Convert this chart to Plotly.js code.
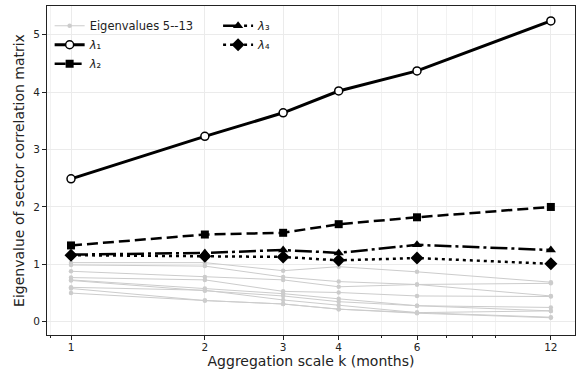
<!DOCTYPE html>
<html>
<head>
<meta charset="utf-8">
<script src="https://cdn.plot.ly/plotly-3.0.1.min.js"></script>
<style>
  html, body { margin: 0; padding: 0; background: #ffffff; }
  #chart { width: 581px; height: 374px; }
</style>
</head>
<body>
<div id="chart"></div>
<script>
// Aggregation scales (months)
const scales = [1, 2, 3, 4, 6, 12];
const tickLabels = ['1', '2', '3', '4', '6', '12'];

// Leading eigenvalues of the sector correlation matrix
const lambda1 = [2.49, 3.23, 3.64, 4.02, 4.37, 5.24];
const lambda2 = [1.33, 1.52, 1.55, 1.70, 1.82, 2.00];
const lambda3 = [1.17, 1.20, 1.25, 1.20, 1.34, 1.25];
const lambda4 = [1.16, 1.14, 1.13, 1.07, 1.11, 1.01];

// Remaining eigenvalues 5..13
const lambda5  = [1.03, 1.03, 0.89, 0.96, 0.87, 0.69];
const lambda6  = [0.99, 0.97, 0.78, 0.70, 0.65, 0.67];
const lambda7  = [0.88, 0.78, 0.73, 0.61, 0.65, 0.45];
const lambda8  = [0.77, 0.73, 0.53, 0.51, 0.45, 0.44];
const lambda9  = [0.73, 0.58, 0.49, 0.40, 0.28, 0.25];
const lambda10 = [0.72, 0.54, 0.45, 0.35, 0.28, 0.19];
const lambda11 = [0.60, 0.55, 0.38, 0.29, 0.16, 0.19];
const lambda12 = [0.58, 0.37, 0.31, 0.22, 0.16, 0.08];
const lambda13 = [0.50, 0.37, 0.31, 0.22, 0.15, 0.07];

const minorVals = [0.9, 5, 7, 8, 9];

const FONT = 'DejaVu Sans, sans-serif';
const INK = '#222222';
const traces = [];

[lambda5, lambda6, lambda7, lambda8, lambda9, lambda10, lambda11, lambda12, lambda13].forEach((vals, i) => {
  traces.push({
    x: scales, y: vals, type: 'scatter', mode: 'lines+markers',
    name: 'Eigenvalues 5--13', legend: 'legend', showlegend: i === 0, legendrank: 1,
    line: { color: '#cccccc', width: 1 },
    marker: { color: '#cccccc', size: 4.5, symbol: 'circle' },
    hoverinfo: 'skip'
  });
});

traces.push({
  x: scales, y: lambda1, type: 'scatter', mode: 'lines+markers',
  name: '<i>λ</i>₁', legend: 'legend', legendrank: 2,
  line: { color: '#000000', width: 3 },
  marker: { symbol: 'circle', size: 8, color: '#ffffff', line: { color: '#000000', width: 1.5 } }
});
traces.push({
  x: scales, y: lambda2, type: 'scatter', mode: 'lines+markers',
  name: '<i>λ</i>₂', legend: 'legend', legendrank: 3,
  line: { color: '#000000', width: 2.5, dash: '11px,5px' },
  marker: { symbol: 'square', size: 8, color: '#000000' }
});
traces.push({
  x: scales, y: lambda3, type: 'scatter', mode: 'lines+markers',
  name: '<i>λ</i>₃', legend: 'legend2', legendrank: 1,
  line: { color: '#000000', width: 2.5, dash: '17px,4px,3px,4px' },
  marker: { symbol: 'triangle-up', size: 9, color: '#000000' }
});
traces.push({
  x: scales, y: lambda4, type: 'scatter', mode: 'lines+markers',
  name: '<i>λ</i>₄', legend: 'legend2', legendrank: 2,
  line: { color: '#000000', width: 2.5, dash: '3px,4px' },
  marker: { symbol: 'diamond', size: 10, color: '#000000' }
});

const legendBase = {
  orientation: 'v', yanchor: 'top', xanchor: 'left',
  bgcolor: 'rgba(0,0,0,0)', borderwidth: 0,
  font: { family: FONT, size: 11.5, color: INK },
  traceorder: 'normal'
};

const layout = {
  width: 581, height: 374,
  margin: { l: 47, r: 6, t: 6, b: 39 },
  paper_bgcolor: '#ffffff', plot_bgcolor: '#ffffff',
  font: { family: FONT, size: 11, color: INK },
  showlegend: true,
  legend: Object.assign({}, legendBase, { x: 0.005, y: 0.984 }),
  legend2: Object.assign({}, legendBase, { x: 0.324, y: 0.984 }),
  xaxis: {
    type: 'log', range: [-0.054, 1.1335],
    tickmode: 'array', tickvals: scales, ticktext: tickLabels,
    ticks: 'outside', ticklen: 4, tickwidth: 1, tickcolor: INK,
    ticklabelstandoff: -2,
    showline: true, mirror: true, linecolor: INK, linewidth: 1,
    showgrid: true, gridcolor: '#ebebeb', gridwidth: 1,
    zeroline: false,
    minor: { tickmode: 'array', tickvals: minorVals, ticks: 'outside', ticklen: 2, tickcolor: INK, showgrid: true, gridcolor: '#f2f2f2' },
    title: { text: 'Aggregation scale k (months)', font: { family: FONT, size: 14, color: INK }, standoff: 4 },
    tickfont: { family: FONT, size: 10.5, color: INK }
  },
  yaxis: {
    range: [-0.23, 5.50],
    tickmode: 'array', tickvals: [0, 1, 2, 3, 4, 5],
    ticks: 'outside', ticklen: 4, tickwidth: 1, tickcolor: INK,
    showline: true, mirror: true, linecolor: INK, linewidth: 1,
    showgrid: true, gridcolor: '#ebebeb', gridwidth: 1,
    zeroline: false,
    title: { text: 'Eigenvalue of sector correlation matrix', font: { family: FONT, size: 14, color: INK }, standoff: 5 },
    tickfont: { family: FONT, size: 10.5, color: INK }
  }
};

Plotly.newPlot('chart', traces, layout, { displayModeBar: false, staticPlot: true });
</script>
</body>
</html>
